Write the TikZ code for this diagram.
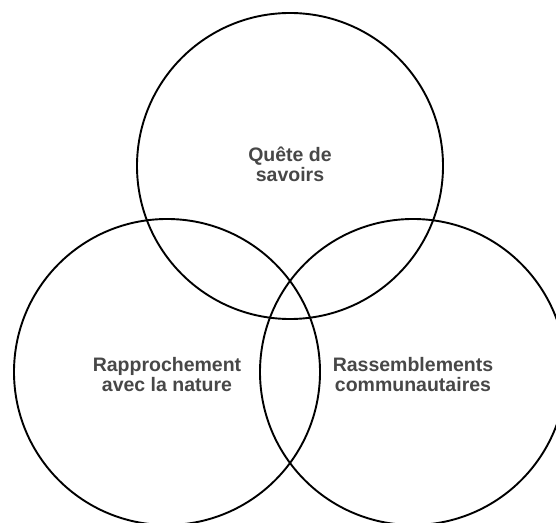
\documentclass[tikz,border=0pt]{standalone}
\usepackage{fontspec}
\setmainfont{Liberation Sans}
\usepackage{tikz}
\usetikzlibrary{positioning}

\definecolor{labelgray}{HTML}{474747}

\begin{document}
\begin{tikzpicture}[x=1pt, y=1pt,
		ring/.style={circle, draw=black, line width=1.9pt, minimum size=306pt, inner sep=0pt},
		caption/.style={text=labelgray, align=center, font=\fontsize{19.5}{20}\selectfont\bfseries}]
		\useasboundingbox (0,0) rectangle (556,522);
		\clip (0,0) rectangle (556,522);
		\node[ring] (savoirs) at (290,356) {};
		\node[ring] (nature) at (167,150) {};
		\node[ring] (communaute) at (413,150) {};
		\node[caption] (savoirslabel) at ([yshift=2pt]savoirs.center) {Quête de\\savoirs};
		\node[caption] (naturelabel) at ([yshift=-3pt]nature.center) {Rapprochement\\avec la nature};
		\node[caption] (communautelabel) at ([yshift=-3pt]communaute.center) {Rassemblements\\communautaires};
	\end{tikzpicture}
\end{document}
